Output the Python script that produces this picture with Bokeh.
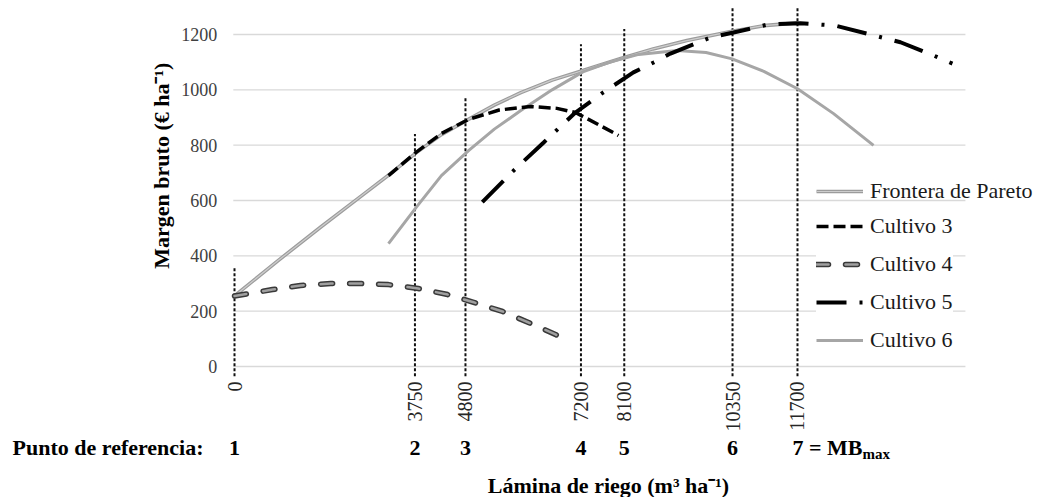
import math
from bokeh.plotting import figure
from bokeh.models import Range1d, Legend, LegendItem
from bokeh.core.properties import value
from bokeh.embed import file_html
from bokeh.resources import INLINE

# ---------------- data ----------------
# reference points (irrigation depth, m3/ha) and the height each dotted guide reaches
ref_x = [0, 3750, 4800, 7200, 8100, 10350, 11700]
ref_top = [355, 840, 970, 1165, 1220, 1300, 1300]
ref_tick_labels = ["0", "3750", "4800", "7200", "8100", "10350", "11700"]
ref_num = ["1", "2", "3", "4", "5", "6"]
ref_last = "7 = MB"
ref_last_sub = "max"

y_ticks = [0, 200, 400, 600, 800, 1000, 1200]
y_tick_labels = ["0", "200", "400", "600", "800", "1000", "1200"]

pareto_x = [0, 900, 1800, 2700, 3300, 3780, 4300, 4880, 5400, 5950, 6600, 7240, 7600, 8060,
            8700, 9400, 10340, 11000, 11700]
pareto_y = [255, 382, 505, 625, 705, 773, 838, 895, 945, 990, 1035, 1070, 1090, 1115,
            1148, 1178, 1212, 1232, 1242]

c3_x = [3200, 3780, 4300, 4860, 5500, 6150, 6700, 7085, 7600, 7980]
c3_y = [690, 775, 842, 893, 927, 940, 933, 918, 871, 835]

c4_x = [0, 790, 1370, 2000, 2620, 3200, 3820, 4430, 4970, 5570, 6110, 6670, 6780]
c4_y = [255, 278, 293, 300, 300, 296, 282, 260, 232, 199, 159, 116, 105]

c5_x = [5150, 5770, 6420, 7085, 7650, 8290, 8710, 9060, 9890, 10370, 11080, 11760,
        12490, 13150, 13840, 14530, 14920]
c5_y = [594, 703, 809, 918, 989, 1063, 1099, 1131, 1189, 1207, 1236, 1241,
        1232, 1203, 1172, 1124, 1095]

c6_x = [3200, 3780, 4300, 4870, 5400, 5950, 6600, 7240, 7800, 8400, 9200, 9800, 10340,
        11000, 11700, 12450, 13280]
c6_y = [444, 576, 690, 781, 858, 925, 1000, 1065, 1100, 1128, 1142, 1135, 1112,
        1067, 1004, 914, 799]

# ---------------- layout constants ----------------
SERIF = "Liberation Serif"
AXIS_X = (-25, 15190)       # horizontal extent of the value axis / gridlines
GUIDE_BOTTOM = -35          # dotted guides end just below the 0 line
XLAB_Y = -54                # top of the rotated reference values
ROW_Y = -293                # row of reference-point numbers
TITLE_X_POS = (7772, -430)  # x-axis title
TITLE_Y_POS = (-1517, 726)  # y-axis title
ROW_LABEL_X = -4613         # "Punto de referencia:"

W, H = 1041, 497
p = figure(width=W, height=H, output_backend="svg", toolbar_location=None,
           x_range=Range1d(-4863, 16771), y_range=Range1d(-473.5, 1322.9),
           x_axis_type=None, y_axis_type=None,
           min_border_left=0, min_border_right=0, min_border_top=0, min_border_bottom=0)
p.outline_line_color = None
p.background_fill_color = "white"
p.border_fill_color = "white"

# horizontal gridlines at the y ticks
p.segment(x0=[AXIS_X[0]] * len(y_ticks), x1=[AXIS_X[1]] * len(y_ticks), y0=y_ticks, y1=y_ticks,
          line_color="#d9d9d9", line_width=1.4)

# y tick labels
p.text(x=[AXIS_X[0]] * len(y_ticks), y=y_ticks, text=y_tick_labels, x_offset=-16,
       text_align="right", text_baseline="middle", text_font=value(SERIF),
       text_font_size="18px", text_color="#404040")

# dotted guides
p.segment(x0=ref_x, y0=[GUIDE_BOTTOM] * len(ref_x), x1=ref_x, y1=ref_top,
          line_color="#111111", line_width=2, line_dash="3 2")

# rotated reference values
p.text(x=ref_x, y=[XLAB_Y] * len(ref_x), text=ref_tick_labels, angle=math.pi / 2,
       text_align="right", text_baseline="middle", text_font=value(SERIF),
       text_font_size="20px", text_color="#262626")

# curves
r_par_a = p.line(pareto_x, pareto_y, line_color="#9c9c9c", line_width=3.6)
r_par_b = p.line(pareto_x, pareto_y, line_color="#cdcdcd", line_width=1.2)
r6 = p.line(c6_x, c6_y, line_color="#a6a6a6", line_width=3)
r3 = p.line(c3_x, c3_y, line_color="#000000", line_width=3.5, line_dash="12 5")
r4a = p.line(c4_x, c4_y, line_color="#3a3a3a", line_width=5.5, line_dash="12 17", line_cap="round")
r4b = p.line(c4_x, c4_y, line_color="#a0a0a0", line_width=2.5, line_dash="12 17", line_cap="round")
r5 = p.line(c5_x, c5_y, line_color="#000000", line_width=4, line_dash="30 13 3 13")

# legends (first item sits over the gridline, the rest on a white box)
leg1 = Legend(items=[LegendItem(label="Frontera de Pareto", renderers=[r_par_a, r_par_b])],
              location=(816, 289))
leg2 = Legend(items=[LegendItem(label="Cultivo 3", renderers=[r3]),
                     LegendItem(label="Cultivo 4", renderers=[r4a, r4b]),
                     LegendItem(label="Cultivo 5", renderers=[r5]),
                     LegendItem(label="Cultivo 6", renderers=[r6])], location=(816, 140))
for lg in (leg1, leg2):
    lg.label_text_font = SERIF
    lg.label_text_font_size = "22px"
    lg.label_text_color = "#1a1a1a"
    lg.glyph_width = 47
    lg.glyph_height = 34
    lg.label_height = 34
    lg.label_standoff = 7
    lg.spacing = 4
    lg.padding = 2
    lg.margin = 0
    lg.border_line_color = None
    lg.background_fill_color = "white"
    lg.background_fill_alpha = 1
leg1.background_fill_alpha = 0
p.add_layout(leg1)
p.add_layout(leg2)

bold = dict(text_font=value(SERIF), text_font_style="bold", text_color="#000000")

# axis titles
p.text(x=[TITLE_Y_POS[0]], y=[TITLE_Y_POS[1]], text=["Margen bruto (€ ha\u207b\u00b9)"],
       angle=math.pi / 2, text_align="center", text_baseline="middle",
       text_font_size="22px", **bold)
p.text(x=[TITLE_X_POS[0]], y=[TITLE_X_POS[1]], text=["Lámina de riego (m\u00b3 ha\u207b\u00b9)"],
       text_align="center", text_baseline="middle", text_font_size="22px", **bold)

# reference-point row
p.text(x=[ROW_LABEL_X], y=[ROW_Y], text=["Punto de referencia:"], text_align="left",
       text_baseline="middle", text_font_size="22px", **bold)
p.text(x=ref_x[:len(ref_num)], y=[ROW_Y] * len(ref_num), text=ref_num, text_align="center",
       text_baseline="middle", text_font_size="22px", **bold)
p.text(x=[ref_x[-1]], y=[ROW_Y], text=[ref_last], x_offset=-5, text_align="left",
       text_baseline="middle", text_font_size="22px", **bold)
p.text(x=[ref_x[-1]], y=[ROW_Y - 25], text=[ref_last_sub], x_offset=65, text_align="left",
       text_baseline="middle", text_font_size="15px", **bold)

open("out.html", "w").write(file_html(p, INLINE))
